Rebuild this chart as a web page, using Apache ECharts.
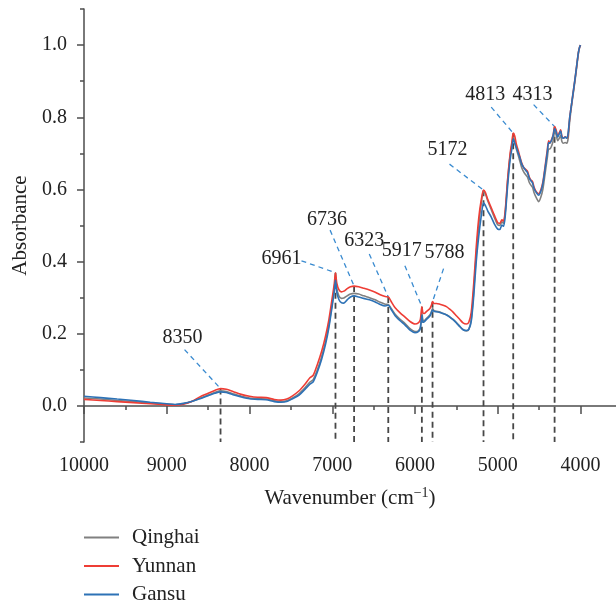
<!DOCTYPE html>
<html>
<head>
<meta charset="utf-8">
<title>NIR spectra</title>
<script src="https://cdn.jsdelivr.net/npm/echarts@6/dist/echarts.min.js"></script>
<style>
  html, body { margin: 0; padding: 0; background: #fff; }
  #chart { width: 616px; height: 602px; }
</style>
</head>
<body>
<div id="chart"></div>
<script>
// Wavenumber grid (cm-1), high to low
const wavenumbers = [
  10000, 9800, 9600, 9400, 9200, 9000, 8900, 8800, 8700, 8600,
  8500, 8420, 8350, 8280, 8200, 8100, 8000, 7900, 7800, 7700,
  7620, 7550, 7480, 7400, 7330, 7270, 7230, 7180, 7130, 7080,
  7040, 7000, 6975, 6961, 6945, 6920, 6890, 6860, 6820, 6780,
  6736, 6680, 6620, 6550, 6480, 6420, 6360, 6323, 6290, 6240,
  6180, 6120, 6060, 6000, 5960, 5935, 5917, 5905, 5890, 5860,
  5820, 5800, 5788, 5770, 5740, 5700, 5660, 5620, 5580, 5540,
  5500, 5460, 5420, 5380, 5350, 5320, 5290, 5260, 5230, 5200,
  5172, 5150, 5120, 5080, 5040, 5000, 4975, 4950, 4930, 4910,
  4880, 4850, 4830, 4813, 4795, 4775, 4755, 4735, 4710, 4685,
  4660, 4640, 4620, 4600, 4580, 4560, 4530, 4505, 4480, 4455,
  4430, 4400, 4385, 4370, 4350, 4330, 4313, 4295, 4275, 4255,
  4240, 4225, 4205, 4185, 4165, 4150, 4130, 4100, 4070, 4045,
  4025, 4010, 4000
];

// Absorbance of the Qinghai sample
const qinghai = [
  0.022, 0.019, 0.015, 0.012, 0.008, 0.005, 0.003, 0.006, 0.012, 0.021,
  0.030, 0.037, 0.042, 0.040, 0.034, 0.027, 0.022, 0.020, 0.019, 0.014,
  0.012, 0.014, 0.022, 0.034, 0.050, 0.066, 0.073, 0.100, 0.135, 0.180,
  0.225, 0.285, 0.325, 0.358, 0.325, 0.305, 0.298, 0.299, 0.305, 0.310,
  0.312, 0.310, 0.305, 0.300, 0.294, 0.287, 0.282, 0.281, 0.271, 0.254,
  0.240, 0.228, 0.214, 0.206, 0.208, 0.218, 0.258, 0.238, 0.236, 0.243,
  0.252, 0.262, 0.270, 0.264, 0.262, 0.260, 0.256, 0.253, 0.247, 0.240,
  0.231, 0.221, 0.212, 0.208, 0.212, 0.240, 0.320, 0.420, 0.500, 0.560,
  0.595, 0.588, 0.568, 0.545, 0.522, 0.502, 0.500, 0.510, 0.506, 0.535,
  0.625, 0.695, 0.722, 0.745, 0.732, 0.712, 0.697, 0.680, 0.660, 0.648,
  0.640, 0.634, 0.620, 0.612, 0.606, 0.590, 0.575, 0.566, 0.578, 0.600,
  0.640, 0.690, 0.712, 0.712, 0.720, 0.735, 0.760, 0.752, 0.735, 0.742,
  0.750, 0.733, 0.728, 0.730, 0.728, 0.740, 0.790, 0.845, 0.895, 0.940,
  0.978, 0.994, 1.000
];

// Absorbance of the Yunnan sample
const yunnan = [
  0.018, 0.015, 0.012, 0.009, 0.006, 0.003, 0.002, 0.005, 0.012, 0.025,
  0.035, 0.043, 0.048, 0.046, 0.040, 0.032, 0.027, 0.024, 0.023, 0.018,
  0.016, 0.019, 0.028, 0.042, 0.060, 0.078, 0.085, 0.115, 0.150, 0.195,
  0.240, 0.300, 0.340, 0.369, 0.340, 0.322, 0.316, 0.318, 0.325, 0.330,
  0.332, 0.330, 0.326, 0.321, 0.315, 0.308, 0.303, 0.302, 0.290, 0.272,
  0.258, 0.246, 0.234, 0.227, 0.230, 0.240, 0.275, 0.258, 0.256, 0.262,
  0.270, 0.280, 0.289, 0.284, 0.284, 0.282, 0.279, 0.275, 0.268, 0.260,
  0.250, 0.240, 0.230, 0.227, 0.232, 0.260, 0.340, 0.440, 0.520, 0.570,
  0.598, 0.592, 0.572, 0.550, 0.528, 0.508, 0.506, 0.516, 0.512, 0.540,
  0.630, 0.700, 0.730, 0.756, 0.748, 0.725, 0.710, 0.693, 0.673, 0.660,
  0.655, 0.650, 0.635, 0.626, 0.622, 0.605, 0.592, 0.588, 0.598, 0.620,
  0.660, 0.712, 0.735, 0.728, 0.738, 0.752, 0.774, 0.765, 0.748, 0.758,
  0.765, 0.748, 0.742, 0.746, 0.742, 0.752, 0.800, 0.850, 0.900, 0.945,
  0.980, 0.995, 1.000
];

// Absorbance of the Gansu sample
const gansu = [
  0.027, 0.023, 0.019, 0.015, 0.010, 0.006, 0.004, 0.007, 0.012, 0.020,
  0.028, 0.035, 0.039, 0.037, 0.031, 0.025, 0.020, 0.018, 0.017, 0.012,
  0.010, 0.012, 0.020, 0.030, 0.046, 0.060, 0.067, 0.094, 0.128, 0.172,
  0.218, 0.278, 0.318, 0.349, 0.315, 0.295, 0.286, 0.285, 0.294, 0.302,
  0.305, 0.302, 0.298, 0.294, 0.288, 0.281, 0.277, 0.279, 0.268, 0.250,
  0.236, 0.224, 0.210, 0.203, 0.206, 0.215, 0.252, 0.232, 0.233, 0.240,
  0.249, 0.259, 0.266, 0.262, 0.261, 0.259, 0.256, 0.252, 0.246, 0.239,
  0.230, 0.220, 0.211, 0.209, 0.212, 0.235, 0.305, 0.400, 0.470, 0.525,
  0.563, 0.556, 0.540, 0.524, 0.504, 0.490, 0.489, 0.501, 0.498, 0.525,
  0.612, 0.683, 0.712, 0.740, 0.728, 0.716, 0.702, 0.690, 0.670, 0.660,
  0.652, 0.646, 0.632, 0.624, 0.618, 0.602, 0.590, 0.584, 0.594, 0.616,
  0.655, 0.705, 0.730, 0.728, 0.736, 0.750, 0.769, 0.760, 0.745, 0.755,
  0.762, 0.745, 0.742, 0.745, 0.742, 0.755, 0.800, 0.850, 0.900, 0.945,
  0.980, 0.995, 1.000
];

// Assigned absorption peaks (cm-1)
const peakWavenumbers = [8350, 6961, 6736, 6323, 5917, 5788, 5172, 4813, 4313];

// Axis tick values
const xTickLabels = [10000, 9000, 8000, 7000, 6000, 5000, 4000];
const xMinorTicks = [9500, 8500, 7500, 6500, 5500, 4500];
const yTickLabels = [0, 0.2, 0.4, 0.6, 0.8, 1.0];
const yMinorTicks = [-0.1, 0.1, 0.3, 0.5, 0.7, 0.9, 1.1];

const X_MIN = 3571, X_MAX = 10000, Y_MIN = -0.1, Y_MAX = 1.1;
const FONT = '"Liberation Serif", "Times New Roman", serif';
const AXIS_COLOR = '#4d4d4d';
const TEXT_COLOR = '#222';

// Leader-line start and label centre, as pixel offsets from each peak
const peakLabelLayout = [
  { lead: [-36, -39], text: [-38, -51] },
  { lead: [-34, -12], text: [-54, -14] },
  { lead: [-24, -56], text: [-27, -66] },
  { lead: [-19, -43], text: [-24, -56] },
  { lead: [-17, -41], text: [-20, -56] },
  { lead: [11, -33],  text: [12, -49] },
  { lead: [-34, -26], text: [-36, -40] },
  { lead: [-22, -26], text: [-28, -38] },
  { lead: [-21, -22], text: [-22, -32] }
];

const toPairs = (vals) => wavenumbers.map((w, i) => [w, vals[i]]);

// Peak marker height: top-most spectrum at that wavenumber
const peakData = peakWavenumbers.map((w) => {
  const i = wavenumbers.indexOf(w);
  return [w, Math.max(qinghai[i], yunnan[i], gansu[i])];
});

const chart = echarts.init(document.getElementById('chart'), null, { renderer: 'canvas' });

const lineSeries = (name, vals, color, z) => ({
  name: name,
  type: 'line',
  data: toPairs(vals),
  showSymbol: false,
  symbol: 'none',
  smooth: 0.25,
  lineStyle: { color: color, width: 1.6 },
  itemStyle: { color: color },
  z: z,
  silent: true
});

const valueAxisCommon = {
  type: 'value',
  splitLine: { show: false }
};

chart.setOption({
  animation: false,
  backgroundColor: '#fff',
  textStyle: { fontFamily: FONT },
  grid: { left: 84, right: 0, top: 9, bottom: 160, containLabel: false },
  legend: {
    data: ['Qinghai', 'Yunnan', 'Gansu'],
    orient: 'vertical',
    left: 84,
    top: 527,
    height: 80,
    padding: 0,
    itemGap: 7.5,
    itemWidth: 35,
    itemHeight: 2,
    icon: 'rect',
    textStyle: { fontFamily: FONT, fontSize: 21, color: TEXT_COLOR, lineHeight: 20, padding: [0, 0, 0, 8] },
    selectedMode: false
  },
  xAxis: [
    Object.assign({}, valueAxisCommon, {
      min: X_MIN, max: X_MAX, inverse: true,
      position: 'bottom',
      name: 'Wavenumber (cm{sup|\u22121})',
      nameLocation: 'middle',
      nameGap: 44,
      nameTextStyle: {
        fontFamily: FONT, fontSize: 21, color: TEXT_COLOR,
        rich: { sup: { fontFamily: FONT, fontSize: 14, color: TEXT_COLOR, padding: [0, 0, 10, 0] } }
      },
      axisLine: { show: true, lineStyle: { color: AXIS_COLOR, width: 1.5 } },
      axisTick: { show: true, inside: false, length: 8, customValues: xTickLabels, lineStyle: { color: AXIS_COLOR, width: 1.5 } },
      axisLabel: {
        show: true, customValues: xTickLabels, margin: 14,
        fontFamily: FONT, fontSize: 20, color: TEXT_COLOR,
        formatter: (v) => String(Math.round(v))
      }
    }),
    Object.assign({}, valueAxisCommon, {
      min: X_MIN, max: X_MAX, inverse: true,
      position: 'bottom',
      axisLine: { show: false },
      axisTick: { show: true, inside: false, length: 4, customValues: xMinorTicks, lineStyle: { color: AXIS_COLOR, width: 1.5 } },
      axisLabel: { show: false }
    })
  ],
  yAxis: [
    Object.assign({}, valueAxisCommon, {
      min: Y_MIN, max: Y_MAX,
      position: 'left',
      name: 'Absorbance',
      nameLocation: 'middle',
      nameGap: 52,
      nameTextStyle: { fontFamily: FONT, fontSize: 21, color: TEXT_COLOR },
      axisLine: { show: true, lineStyle: { color: AXIS_COLOR, width: 1.5 } },
      axisTick: { show: true, inside: false, length: 7, customValues: yTickLabels, lineStyle: { color: AXIS_COLOR, width: 1.5 } },
      axisLabel: {
        show: true, customValues: yTickLabels, margin: 17,
        fontFamily: FONT, fontSize: 20, color: TEXT_COLOR,
        formatter: (v) => Number(v).toFixed(1)
      }
    }),
    Object.assign({}, valueAxisCommon, {
      min: Y_MIN, max: Y_MAX,
      position: 'left',
      axisLine: { show: false },
      axisTick: { show: true, inside: false, length: 4, customValues: yMinorTicks, lineStyle: { color: AXIS_COLOR, width: 1.5 } },
      axisLabel: { show: false }
    })
  ],
  series: [
    {
      name: 'peaks',
      type: 'custom',
      xAxisIndex: 0,
      yAxisIndex: 0,
      data: peakData,
      clip: false,
      silent: true,
      z: 1,
      renderItem: function (params, api) {
        const i = params.dataIndex;
        const wn = api.value(0);
        const top = api.coord([wn, api.value(1)]);
        const base = api.coord([wn, Y_MIN]);
        const L = peakLabelLayout[i];
        const tx = top[0] + L.text[0];
        const ty = top[1] + L.text[1];
        return {
          type: 'group',
          children: [
            {
              type: 'line',
              shape: { x1: top[0], y1: top[1], x2: base[0], y2: base[1] },
              style: { stroke: '#474747', lineWidth: 1.8, lineDash: [6, 4] }
            },
            {
              type: 'line',
              shape: { x1: top[0] + L.lead[0], y1: top[1] + L.lead[1], x2: top[0], y2: top[1] },
              style: { stroke: '#3a8bd0', lineWidth: 1.3, lineDash: [5, 4] }
            },
            {
              type: 'text',
              x: tx,
              y: ty,
              style: {
                text: String(wn),
                x: 0, y: 0,
                fill: TEXT_COLOR,
                font: '20px ' + FONT,
                align: 'center', verticalAlign: 'middle',
                textAlign: 'center', textVerticalAlign: 'middle'
              }
            }
          ]
        };
      }
    },
    lineSeries('Qinghai', qinghai, '#808080', 2),
    lineSeries('Yunnan', yunnan, '#ee3d35', 3),
    lineSeries('Gansu', gansu, '#2d72b6', 4)
  ]
});
</script>
</body>
</html>
